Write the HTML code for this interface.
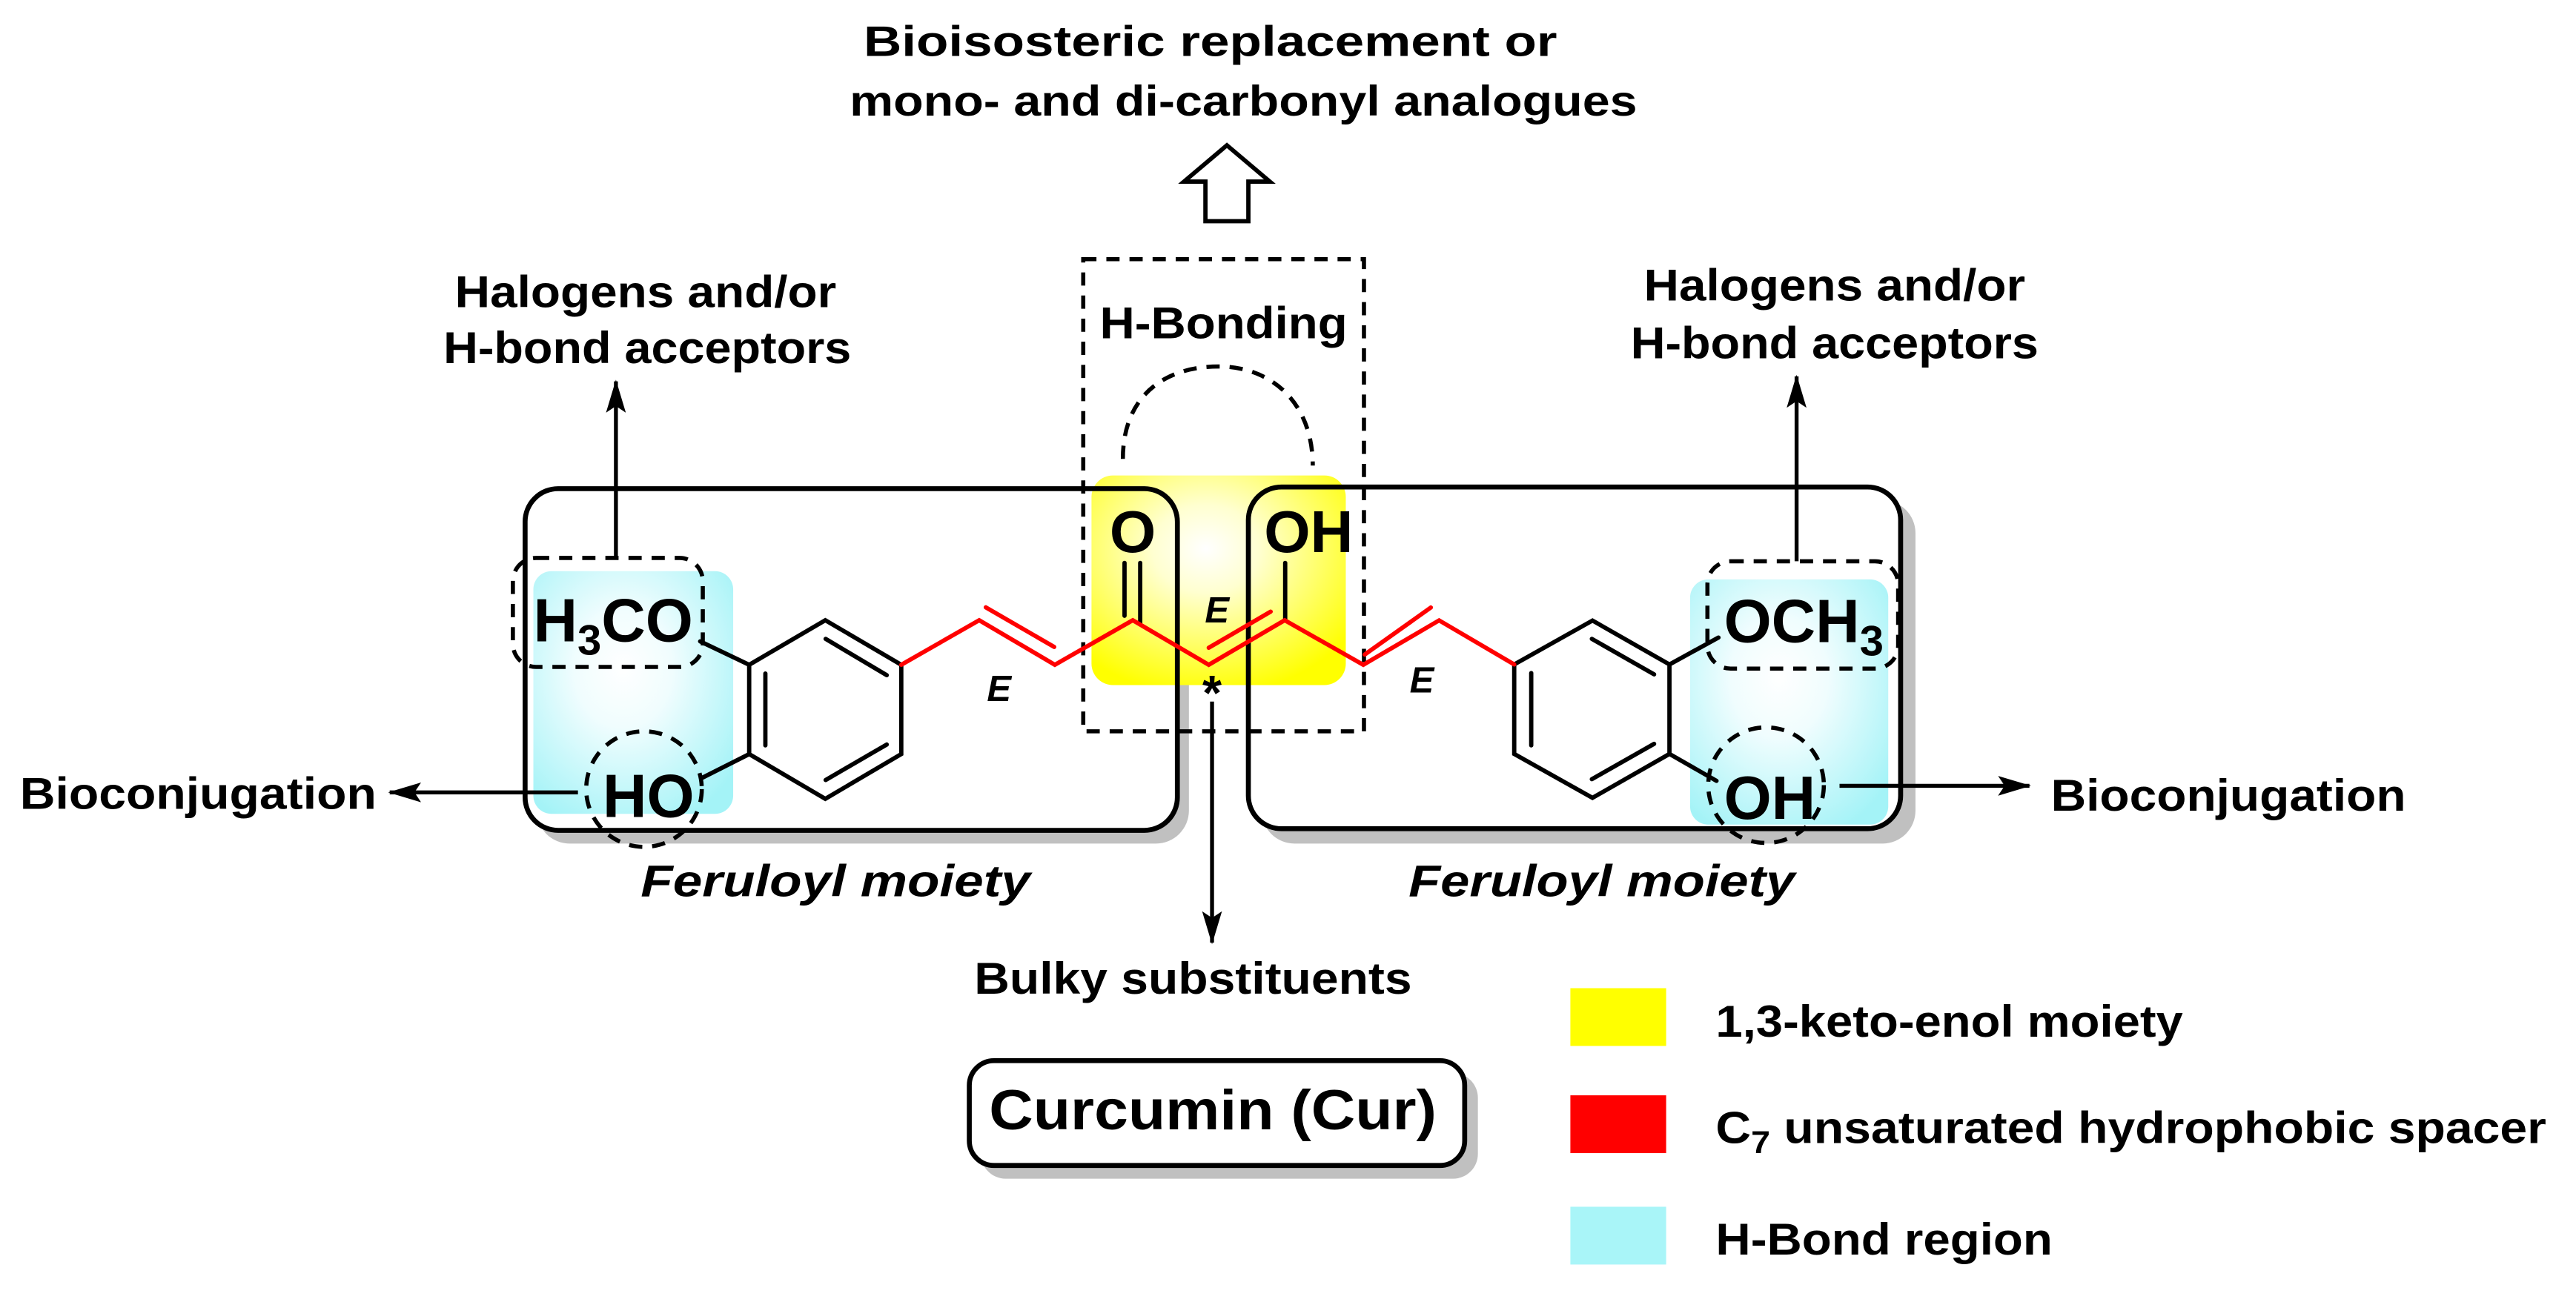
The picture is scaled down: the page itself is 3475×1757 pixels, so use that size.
<!DOCTYPE html>
<html><head><meta charset="utf-8"><style>
html,body{margin:0;padding:0;background:#fff;}
svg{display:block;}
text{font-family:"Liberation Sans",sans-serif;font-weight:bold;fill:#000;}
</style></head><body>
<svg width="3475" height="1757" viewBox="0 0 1560 788.7" preserveAspectRatio="none" xmlns="http://www.w3.org/2000/svg">
<defs>
<radialGradient id="cy" cx="0.45" cy="0.4" r="0.7">
<stop offset="0" stop-color="#ffffff"/><stop offset="0.35" stop-color="#f0fdfe"/><stop offset="1" stop-color="#a4f3f7"/></radialGradient>
<radialGradient id="ye" cx="0.45" cy="0.35" r="0.7">
<stop offset="0" stop-color="#ffffff"/><stop offset="0.3" stop-color="#ffffd0"/><stop offset="1" stop-color="#ffff00"/></radialGradient>
<marker id="ah" viewBox="0 0 20 12" refX="19" refY="6" markerWidth="20" markerHeight="12" markerUnits="userSpaceOnUse" orient="auto">
<path d="M0,0 L20,6 L0,12 L4,6 Z" fill="#000"/></marker>
</defs>

<text x="733" y="34" font-size="26" text-anchor="middle" textLength="420" lengthAdjust="spacingAndGlyphs">Bioisosteric replacement or</text>
<text x="753" y="70" font-size="26" text-anchor="middle" textLength="477" lengthAdjust="spacingAndGlyphs">mono- and di-carbonyl analogues</text>
<path d="M743,88 L769,110 L756,110 L756,134 L730,134 L730,110 L717,110 Z" fill="#fff" stroke="#000" stroke-width="2.6" stroke-linejoin="miter"/>

<rect x="325" y="304" width="395" height="207" rx="20" fill="#c0c0c0"/>
<rect x="764" y="303" width="396" height="208" rx="20" fill="#c0c0c0"/>
<rect x="594" y="650" width="301" height="64" rx="15" fill="#c0c0c0"/>

<rect x="318" y="296" width="395" height="207" rx="20" fill="#fff"/>
<rect x="756" y="295" width="395" height="207" rx="20" fill="#fff"/>

<rect x="661" y="288" width="154" height="127" rx="13" fill="url(#ye)"/>
<rect x="323" y="346" width="121" height="147" rx="11" fill="url(#cy)"/>
<rect x="1023.5" y="351" width="120" height="148.5" rx="11" fill="url(#cy)"/>

<rect x="318" y="296" width="395" height="207" rx="20" fill="none" stroke="#000" stroke-width="3"/>
<rect x="756" y="295" width="395" height="207" rx="20" fill="none" stroke="#000" stroke-width="3"/>

<g fill="none" stroke="#000" stroke-width="2.5" stroke-dasharray="8,6">
<rect x="656" y="157" width="170" height="286"/>
<path d="M680,278 C680,240 705,222 738,222 C771,222 795,245 795,282"/>
<rect x="310.6" y="338" width="115" height="66" rx="14"/>
<rect x="1034" y="340" width="115.5" height="65" rx="14"/>
<ellipse cx="390" cy="478" rx="35" ry="35"/>
<ellipse cx="1069.5" cy="475.6" rx="35" ry="35"/>
</g>

<g stroke="#000" stroke-width="2.6" fill="none" stroke-linecap="round">
<polygon points="453.7,402.7 499.8,375.7 545.8,402.7 545.8,456.8 499.8,483.9 453.7,456.8"/>
<line x1="500" y1="387" x2="537" y2="409"/>
<line x1="500" y1="472.5" x2="537" y2="451"/>
<line x1="463.5" y1="408" x2="463.5" y2="451.5"/>
<line x1="453.7" y1="402.7" x2="424" y2="388.5"/>
<line x1="453.7" y1="456.8" x2="425.6" y2="471"/>
<polygon points="917,402.5 964.4,375.9 1011,402.5 1011,456.7 964.4,483.3 917,456.7"/>
<line x1="927.3" y1="407.7" x2="927.3" y2="451.5"/>
<line x1="964" y1="387" x2="1001.7" y2="408.5"/>
<line x1="964" y1="472" x2="1001.7" y2="450.6"/>
<line x1="1011" y1="402.5" x2="1040.7" y2="386.2"/>
<line x1="1011" y1="456.7" x2="1039.5" y2="473"/>
<line x1="681" y1="373" x2="681" y2="341"/>
<line x1="690.5" y1="378" x2="690.5" y2="341"/>
<line x1="778.3" y1="375.7" x2="778.3" y2="341"/>
</g>
<g stroke="#ff0000" stroke-width="2.6" fill="none" stroke-linecap="round" stroke-linejoin="miter">
<polyline points="545.8,402.7 593,375.7 638.8,402.7 686,375.7 732,402.7 778,375.7 825.6,402.7 871.5,375.8 917,402.5"/>
<line x1="597" y1="367.9" x2="638.4" y2="391.9"/>
<line x1="732" y1="392.4" x2="769.5" y2="370.5"/>
<line x1="826.5" y1="396.5" x2="866.5" y2="368"/>
</g>

<g stroke="#000" stroke-width="2.4" fill="none">
<line x1="373" y1="337" x2="373" y2="231" marker-end="url(#ah)"/>
<line x1="1088" y1="340" x2="1088" y2="228" marker-end="url(#ah)"/>
<line x1="350" y1="480" x2="236" y2="480" marker-end="url(#ah)"/>
<line x1="1114" y1="476" x2="1229" y2="476" marker-end="url(#ah)"/>
<line x1="734" y1="425" x2="734" y2="571" marker-end="url(#ah)"/>
</g>

<text x="323" y="388.5" font-size="37">H<tspan font-size="26" dy="8">3</tspan><tspan dy="-8">CO</tspan></text>
<text x="365" y="495" font-size="37">HO</text>
<text x="672" y="334.4" font-size="36">O</text>
<text x="765.5" y="334.4" font-size="36">OH</text>
<text x="1044" y="389" font-size="37">OCH<tspan font-size="26" dy="8">3</tspan></text>
<text x="1044" y="496" font-size="37">OH</text>
<text x="605" y="424.6" font-size="22" font-style="italic" text-anchor="middle">E</text>
<text x="737" y="377" font-size="22" font-style="italic" text-anchor="middle">E</text>
<text x="861" y="419.5" font-size="22" font-style="italic" text-anchor="middle">E</text>
<text x="734" y="430" font-size="30" text-anchor="middle">*</text>

<text x="391" y="186" font-size="27" text-anchor="middle" textLength="231" lengthAdjust="spacingAndGlyphs">Halogens and/or</text>
<text x="392" y="220" font-size="27" text-anchor="middle" textLength="247" lengthAdjust="spacingAndGlyphs">H-bond acceptors</text>
<text x="1111" y="182" font-size="27" text-anchor="middle" textLength="231" lengthAdjust="spacingAndGlyphs">Halogens and/or</text>
<text x="1111" y="217" font-size="27" text-anchor="middle" textLength="247" lengthAdjust="spacingAndGlyphs">H-bond acceptors</text>
<text x="741" y="205" font-size="27" text-anchor="middle" textLength="150" lengthAdjust="spacingAndGlyphs">H-Bonding</text>
<text x="12" y="490" font-size="27" textLength="216" lengthAdjust="spacingAndGlyphs">Bioconjugation</text>
<text x="1242" y="491" font-size="27" textLength="215" lengthAdjust="spacingAndGlyphs">Bioconjugation</text>
<text x="388" y="543" font-size="27" font-style="italic" textLength="236" lengthAdjust="spacingAndGlyphs">Feruloyl moiety</text>
<text x="853" y="543" font-size="27" font-style="italic" textLength="234" lengthAdjust="spacingAndGlyphs">Feruloyl moiety</text>
<text x="590" y="602" font-size="27" textLength="265" lengthAdjust="spacingAndGlyphs">Bulky substituents</text>

<rect x="587" y="642.5" width="300" height="63.5" rx="15" fill="#fff" stroke="#000" stroke-width="3"/>
<text x="599" y="684" font-size="34" textLength="271" lengthAdjust="spacingAndGlyphs">Curcumin (Cur)</text>

<rect x="951" y="598.6" width="58" height="35" fill="#ffff00"/>
<rect x="951" y="663.5" width="58" height="35" fill="#ff0000"/>
<rect x="951" y="731" width="58" height="35" fill="#a9f5f8"/>
<text x="1039" y="628" font-size="27" textLength="283" lengthAdjust="spacingAndGlyphs">1,3-keto-enol moiety</text>
<text x="1039" y="692.5" font-size="27" textLength="503" lengthAdjust="spacingAndGlyphs">C<tspan font-size="19" dy="6">7</tspan><tspan dy="-6"> unsaturated hydrophobic spacer</tspan></text>
<text x="1039" y="760" font-size="27" textLength="204" lengthAdjust="spacingAndGlyphs">H-Bond region</text>
</svg>
</body></html>
